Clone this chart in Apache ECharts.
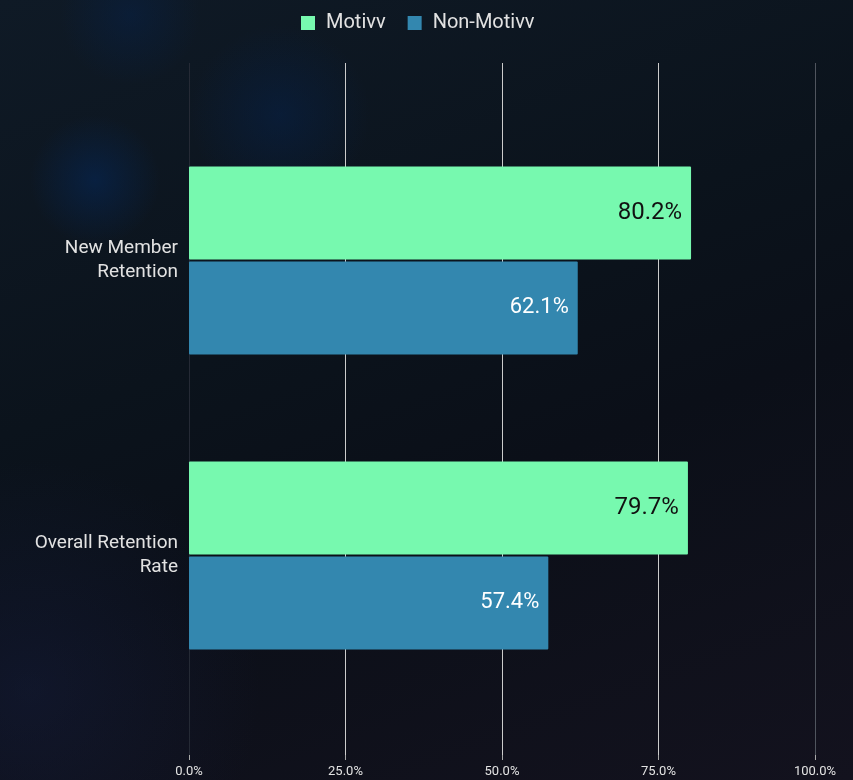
<!DOCTYPE html>
<html>
<head>
<meta charset="utf-8">
<script src="https://cdn.jsdelivr.net/npm/echarts@6/dist/echarts.min.js"></script>
<style>
  html, body { margin: 0; padding: 0; }
  body {
    width: 853px; height: 780px; overflow: hidden;
    background:
      radial-gradient(circle at 95px 180px, rgba(5, 40, 90, 0.55) 0, rgba(5, 40, 90, 0) 65px),
      radial-gradient(circle at 280px 115px, rgba(5, 35, 80, 0.45) 0, rgba(5, 35, 80, 0) 90px),
      radial-gradient(circle at 130px 15px, rgba(5, 35, 80, 0.4) 0, rgba(5, 35, 80, 0) 70px),
      radial-gradient(circle at 30px 690px, rgba(25, 35, 75, 0.35) 0, rgba(25, 35, 75, 0) 230px),
      linear-gradient(160deg, #0f1a26 0%, #0b131c 40%, #0b0f18 60%, #13121e 100%);
  }
  #chart { width: 853px; height: 780px; }
</style>
</head>
<body>
<div id="chart"></div>
<script>
// Retention comparison: Motivv vs Non-Motivv members
const categories = ['New Member Retention', 'Overall Retention Rate'];
const seriesNames = ['Motivv', 'Non-Motivv'];
const motivvValues = [80.2, 79.7];
const nonMotivvValues = [62.1, 57.4];
const axisTicks = [0, 25, 50, 75, 100];

const colors = ['#77f9af', '#3387af'];
const textColor = '#e2e2e2';

// Two-line category labels: break before the last word
const wrapLabel = v => {
  const i = v.lastIndexOf(' ');
  return i < 0 ? v : v.slice(0, i) + '\n' + v.slice(i + 1);
};

const chart = echarts.init(document.getElementById('chart'), null, { renderer: 'canvas' });

const option = {
  backgroundColor: 'transparent',
  textStyle: { fontFamily: 'Roboto, sans-serif' },
  legend: {
    top: 8,
    left: 296,
    itemWidth: 14,
    itemHeight: 14,
    itemGap: 22,
    icon: 'rect',
    data: seriesNames,
    textStyle: {
      color: textColor,
      fontSize: 20,
      padding: [0, 0, 0, 6],
      fontFamily: 'Roboto, sans-serif'
    }
  },
  grid: [
    // grid 0 carries the value axis, its labels and the full-height split lines
    { left: 189, right: 38, top: 63, bottom: 25, containLabel: false },
    // grid 1 carries the bars
    { left: 189, right: 38, top: 113, bottom: 77, containLabel: false }
  ],
  xAxis: [
    {
      gridIndex: 0,
      type: 'value',
      min: axisTicks[0],
      max: axisTicks[axisTicks.length - 1],
      interval: axisTicks[1] - axisTicks[0],
      axisLine: { show: false },
      axisTick: { show: true, length: 5, lineStyle: { color: '#aaaaaa' } },
      axisLabel: {
        color: textColor,
        fontSize: 13,
        margin: 10,
        formatter: v => v.toFixed(1) + '%'
      },
      splitLine: {
        show: true,
        lineStyle: {
          width: 1,
          color: ['#252a35', '#cccccc', '#cccccc', '#cccccc', '#50555e']
        }
      }
    },
    {
      gridIndex: 1,
      type: 'value',
      min: axisTicks[0],
      max: axisTicks[axisTicks.length - 1],
      show: false,
      splitLine: { show: false }
    }
  ],
  yAxis: [
    {
      gridIndex: 0,
      type: 'category',
      data: categories,
      show: false
    },
    {
      gridIndex: 1,
      type: 'category',
      data: categories,
      inverse: true,
      axisLine: { show: false },
      axisTick: { show: false },
      splitLine: { show: false },
      axisLabel: {
        color: textColor,
        fontSize: 19,
        lineHeight: 24,
        margin: 11,
        align: 'right',
        formatter: wrapLabel
      }
    }
  ],
  series: [
    {
      name: seriesNames[0],
      type: 'bar',
      xAxisIndex: 1,
      yAxisIndex: 1,
      data: motivvValues,
      barWidth: 93,
      barGap: '2%',
      itemStyle: { color: colors[0], borderRadius: 1 },
      label: {
        show: true,
        position: 'insideRight',
        distance: 9,
        color: '#111111',
        fontSize: 24,
        formatter: p => p.value.toFixed(1) + '%'
      }
    },
    {
      name: seriesNames[1],
      type: 'bar',
      xAxisIndex: 1,
      yAxisIndex: 1,
      data: nonMotivvValues,
      barWidth: 93,
      barGap: '2%',
      itemStyle: { color: colors[1], borderRadius: 1 },
      label: {
        show: true,
        position: 'insideRight',
        distance: 9,
        color: '#ffffff',
        fontSize: 22,
        formatter: p => p.value.toFixed(1) + '%'
      }
    }
  ]
};

chart.setOption(option);
</script>
</body>
</html>
